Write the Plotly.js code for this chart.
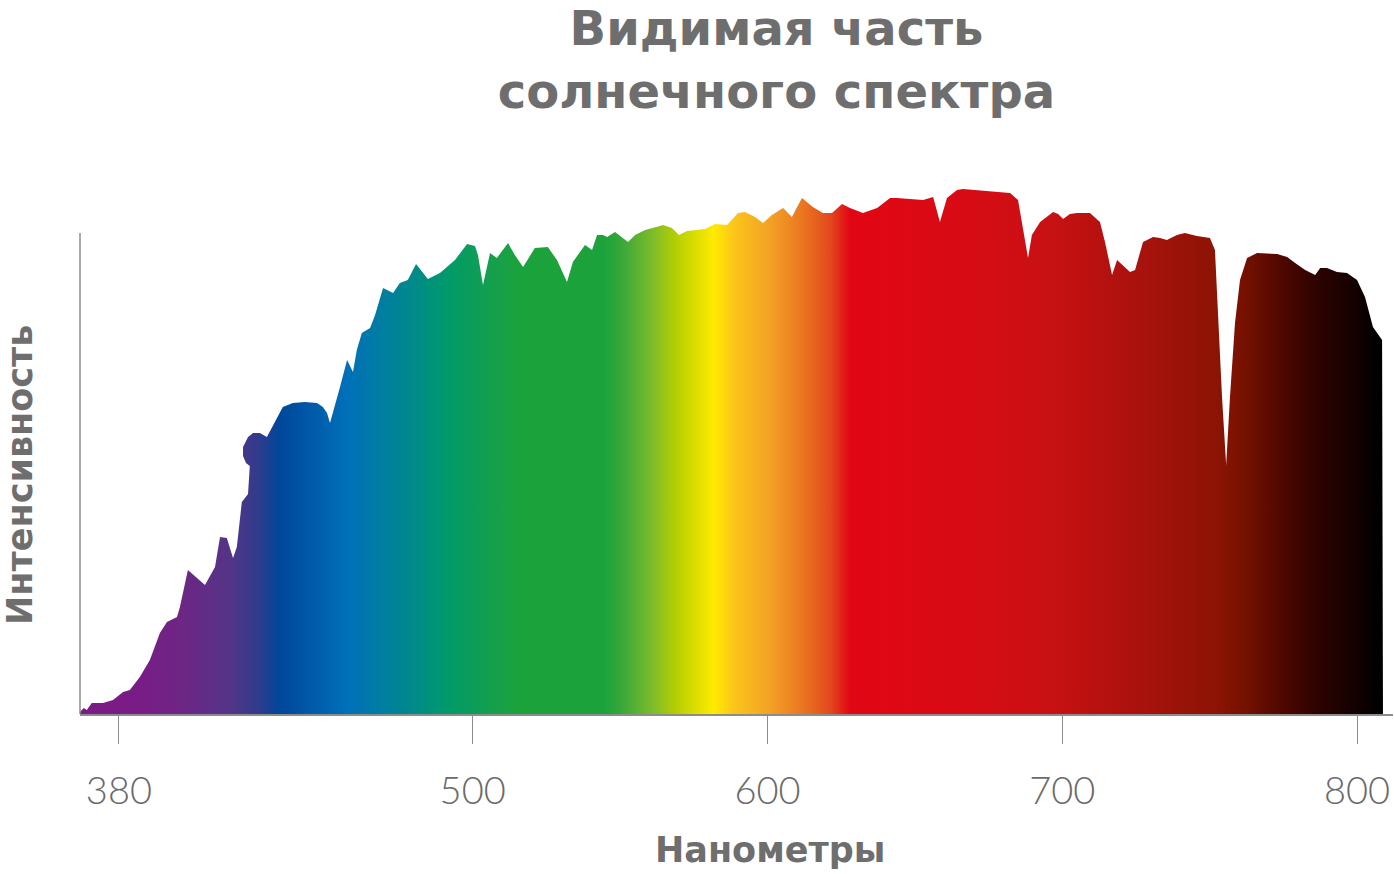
<!DOCTYPE html>
<html>
<head>
<meta charset="utf-8">
<script src="https://cdn.plot.ly/plotly-3.0.1.min.js"></script>
<style>html,body{margin:0;padding:0;background:#fff;}#chart{width:1394px;height:874px;}</style>
</head>
<body>
<div id="chart"></div>
<script>
// Wavelength (nm) and relative intensity
const wavelength = [366.8,368.1,369.1,370.8,374.6,378.0,381.4,383.7,387.1,390.5,393.9,396.3,399.7,400.7,403.4,409.2,412.6,414.3,416.6,418.7,420.0,421.7,423.8,424.4,423.1,422.1,422.1,423.8,425.5,427.8,430.2,433.6,435.6,439.0,443.1,447.2,449.2,450.6,451.6,455.0,457.4,459.4,460.7,462.4,465.2,466.9,469.6,473.0,475.3,478.0,480.8,484.8,488.9,494.0,498.1,500.8,501.8,503.5,505.9,508.2,512.0,514.3,517.1,521.1,525.5,528.6,532.0,534.0,538.1,540.5,542.2,544.2,545.6,548.3,552.7,555.1,558.5,563.5,564.6,567.6,570.0,572.7,578.8,582.2,586.3,590.0,592.4,595.8,598.5,601.5,605.3,608.3,611.7,615.4,618.8,621.9,625.3,628.0,632.4,637.2,641.6,643.9,652.8,656.2,658.5,660.9,664.3,666.3,682.3,685.0,686.3,688.4,689.7,692.5,696.9,698.6,700.3,702.6,705.0,709.4,712.8,714.5,716.9,718.6,723.0,724.7,727.4,730.8,733.2,735.5,738.9,741.6,745.7,750.1,751.8,752.8,754.2,755.6,756.9,758.6,760.3,762.7,766.1,772.9,776.3,779.0,782.4,785.8,787.5,789.8,793.2,796.6,800.0,802.7,805.4,808.5,808.8];
const intensity = [2,6,4,11,11,14,22,24,37,54,81,92,97,107,144,129,147,177,176,156,167,212,220,248,251,258,267,277,281,281,277,296,307,311,312,311,307,301,291,327,354,342,364,381,386,399,426,421,431,434,450,435,441,454,470,468,459,429,461,456,471,459,447,466,467,454,432,452,469,464,479,479,477,482,472,479,484,488,489,486,479,483,485,490,489,501,502,497,491,499,506,497,516,507,501,501,510,506,501,506,516,516,514,517,492,516,524,525,521,514,492,456,479,492,502,500,495,500,501,501,492,472,439,454,442,444,472,477,476,474,479,481,478,476,464,401,317,249,317,391,434,456,461,460,457,451,444,439,446,446,442,441,434,417,387,374,0];

// Tick labels
const tickValues = [380, 500, 600, 700, 800];
const tickLabels = ["380", "500", "600", "700", "800"];

// Spectrum colours along the wavelength axis
const spectrumStops = [0, 0.042, 0.080, 0.118, 0.141, 0.156, 0.208, 0.258, 0.284, 0.322, 0.339, 0.403, 0.416, 0.441, 0.459, 0.487, 0.502, 0.532, 0.555, 0.576, 0.591, 0.675, 0.744, 0.820, 0.871, 0.896, 0.921, 0.946, 0.995, 1];
const spectrumColors = ["#7a1b86","#7a1b86","#6e2584","#543488","#2e3c8c","#00469a","#0070ba","#008a8a","#009a6a","#17a04a","#1ba33b","#1ca23b","#35a73a","#7fbc2a","#b7cf00","#ffeb00","#fcc61a","#f39e26","#ea7620","#e2481e","#e20613","#d80b15","#c81112","#a5120c","#8c1404","#701000","#4e0700","#2e0300","#000000","#000000"];

const colorscale = spectrumStops.map((s, i) => [s, spectrumColors[i]]);

const trace = {
  x: wavelength,
  y: intensity,
  type: 'scatter',
  mode: 'lines',
  line: {width: 0, color: 'rgba(0,0,0,0)'},
  fill: 'tozeroy',
  fillgradient: {type: 'horizontal', colorscale: colorscale, start: 365, stop: 810},
  hoverinfo: 'x',
  showlegend: false
};

const gray = '#6e6e6e';
const axisGray = '#8c8c8c';

const layout = {
  width: 1394,
  height: 874,
  margin: {l: 80, r: 1, t: 170, b: 160},
  paper_bgcolor: '#ffffff',
  plot_bgcolor: '#ffffff',
  title: {
    text: '<b>Видимая часть<br>солнечного спектра</b>',
    font: {family: 'DejaVu Sans', size: 48, color: gray},
    x: 0.557, xref: 'container', xanchor: 'center',
    y: 0.948, yref: 'container', yanchor: 'top'
  },
  xaxis: {
    range: [366.8, 812.2],
    tickmode: 'array',
    tickvals: tickValues,
    ticktext: tickLabels,
    ticks: 'outside',
    ticklen: 28,
    tickwidth: 1,
    tickcolor: axisGray,
    ticklabelstandoff: 15,
    tickfont: {family: 'Lato', size: 38, color: '#6a6a6a', weight: 300},
    showline: true,
    linecolor: axisGray,
    linewidth: 1.5,
    showgrid: false,
    zeroline: false,
    fixedrange: true
  },
  yaxis: {
    range: [0, 544],
    showline: false,
    showticklabels: false,
    ticks: '',
    showgrid: false,
    zeroline: false,
    fixedrange: true
  },
  shapes: [{
    type: 'line', xref: 'paper', yref: 'y',
    x0: 0, x1: 0, y0: 0, y1: 481,
    line: {color: axisGray, width: 1.5}
  }],
  annotations: [
    {
      text: '<b>Нанометры</b>',
      xref: 'paper', yref: 'paper',
      x: (770 - 80) / 1313, y: -(850 - 714) / 544,
      xanchor: 'center', yanchor: 'middle',
      showarrow: false,
      font: {family: 'DejaVu Sans', size: 35, color: gray}
    },
    {
      text: '<b>Интенсивность</b>',
      xref: 'paper', yref: 'paper',
      x: (20 - 80) / 1313, y: (714 - 475) / 544,
      xanchor: 'center', yanchor: 'middle',
      textangle: -90,
      showarrow: false,
      font: {family: 'DejaVu Sans', size: 35, color: gray}
    }
  ]
};

Plotly.newPlot('chart', [trace], layout, {displayModeBar: false, staticPlot: true});
</script>
</body>
</html>
